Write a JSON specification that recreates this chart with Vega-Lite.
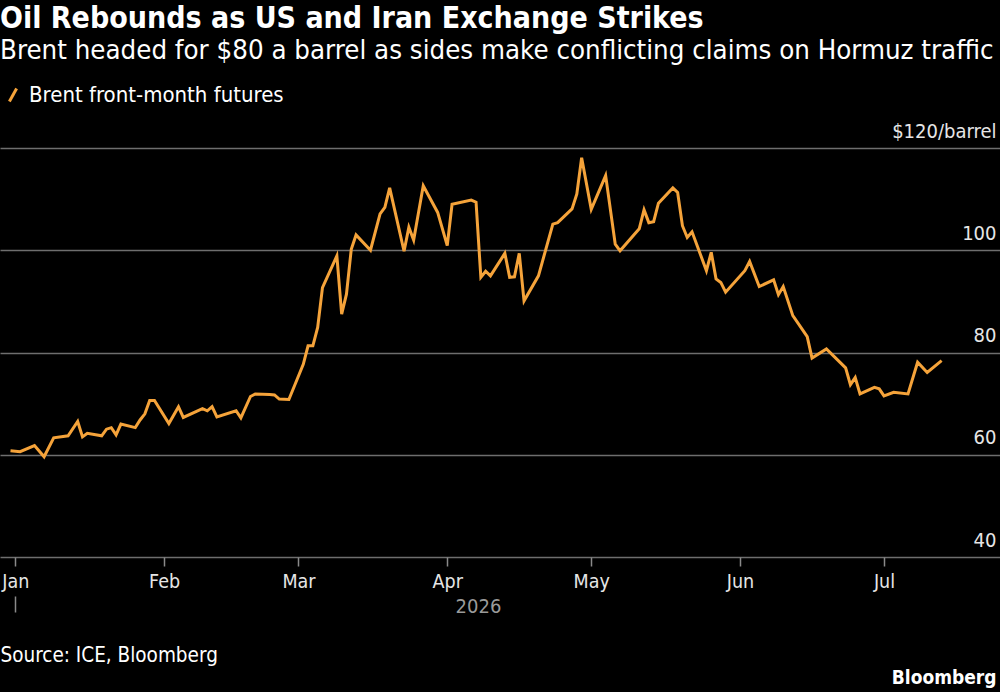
{
  "$schema": "https://vega.github.io/schema/vega-lite/v6.json",
  "width": 1000,
  "height": 409,
  "autosize": {"type": "none"},
  "padding": {"left": 0, "top": 148, "right": 0, "bottom": 135},
  "background": "#000000",
  "config": {"view": {"stroke": null}, "font": "DejaVu Sans Condensed, Roboto, sans-serif"},
  "title": {
    "text": "Oil Rebounds as US and Iran Exchange Strikes",
    "subtitle": "Brent headed for $80 a barrel as sides make conflicting claims on Hormuz traffic",
    "anchor": "start",
    "frame": "group",
    "offset": 20,
    "font": "DejaVu Sans Condensed, Roboto, sans-serif",
    "fontSize": 30,
    "fontWeight": "bold",
    "color": "#ffffff",
    "subtitleFont": "DejaVu Sans Condensed, Roboto, sans-serif",
    "subtitleFontSize": 27.4,
    "subtitleColor": "#ffffff",
    "subtitlePadding": 3
  },
  "data": {
    "values": [
      {"date": "2025-12-31", "price": 60.8},
      {"date": "2026-01-02", "price": 60.6},
      {"date": "2026-01-05", "price": 61.8},
      {"date": "2026-01-07", "price": 59.6},
      {"date": "2026-01-09", "price": 63.3},
      {"date": "2026-01-12", "price": 63.7},
      {"date": "2026-01-14", "price": 66.5},
      {"date": "2026-01-15", "price": 63.5},
      {"date": "2026-01-16", "price": 64.2},
      {"date": "2026-01-19", "price": 63.7},
      {"date": "2026-01-20", "price": 65.0},
      {"date": "2026-01-21", "price": 65.3},
      {"date": "2026-01-22", "price": 63.9},
      {"date": "2026-01-23", "price": 66.0},
      {"date": "2026-01-26", "price": 65.3},
      {"date": "2026-01-27", "price": 66.8},
      {"date": "2026-01-28", "price": 68.0},
      {"date": "2026-01-29", "price": 70.6},
      {"date": "2026-01-30", "price": 70.6},
      {"date": "2026-02-02", "price": 66.1},
      {"date": "2026-02-04", "price": 69.4},
      {"date": "2026-02-05", "price": 67.3},
      {"date": "2026-02-09", "price": 69.0},
      {"date": "2026-02-10", "price": 68.6},
      {"date": "2026-02-11", "price": 69.4},
      {"date": "2026-02-12", "price": 67.4},
      {"date": "2026-02-16", "price": 68.6},
      {"date": "2026-02-17", "price": 67.2},
      {"date": "2026-02-19", "price": 71.4},
      {"date": "2026-02-20", "price": 71.9},
      {"date": "2026-02-23", "price": 71.8},
      {"date": "2026-02-24", "price": 71.7},
      {"date": "2026-02-25", "price": 70.9},
      {"date": "2026-02-27", "price": 70.8},
      {"date": "2026-03-02", "price": 77.7},
      {"date": "2026-03-03", "price": 81.3},
      {"date": "2026-03-04", "price": 81.3},
      {"date": "2026-03-05", "price": 84.9},
      {"date": "2026-03-06", "price": 92.7},
      {"date": "2026-03-09", "price": 98.9},
      {"date": "2026-03-10", "price": 87.5},
      {"date": "2026-03-11", "price": 91.4},
      {"date": "2026-03-12", "price": 100.2},
      {"date": "2026-03-13", "price": 103.0},
      {"date": "2026-03-16", "price": 100.0},
      {"date": "2026-03-18", "price": 107.1},
      {"date": "2026-03-19", "price": 108.4},
      {"date": "2026-03-20", "price": 112.2},
      {"date": "2026-03-23", "price": 99.8},
      {"date": "2026-03-24", "price": 104.5},
      {"date": "2026-03-25", "price": 102.0},
      {"date": "2026-03-27", "price": 112.6},
      {"date": "2026-03-30", "price": 107.4},
      {"date": "2026-04-01", "price": 100.9},
      {"date": "2026-04-02", "price": 109.0},
      {"date": "2026-04-06", "price": 109.8},
      {"date": "2026-04-07", "price": 109.4},
      {"date": "2026-04-08", "price": 94.7},
      {"date": "2026-04-09", "price": 95.9},
      {"date": "2026-04-10", "price": 95.0},
      {"date": "2026-04-13", "price": 99.4},
      {"date": "2026-04-14", "price": 94.7},
      {"date": "2026-04-15", "price": 94.8},
      {"date": "2026-04-16", "price": 99.4},
      {"date": "2026-04-17", "price": 90.1},
      {"date": "2026-04-20", "price": 95.0},
      {"date": "2026-04-23", "price": 105.1},
      {"date": "2026-04-24", "price": 105.4},
      {"date": "2026-04-27", "price": 108.1},
      {"date": "2026-04-28", "price": 111.0},
      {"date": "2026-04-29", "price": 118.1},
      {"date": "2026-05-01", "price": 108.0},
      {"date": "2026-05-04", "price": 114.6},
      {"date": "2026-05-06", "price": 101.2},
      {"date": "2026-05-07", "price": 99.9},
      {"date": "2026-05-11", "price": 104.2},
      {"date": "2026-05-12", "price": 107.9},
      {"date": "2026-05-13", "price": 105.4},
      {"date": "2026-05-14", "price": 105.6},
      {"date": "2026-05-15", "price": 109.2},
      {"date": "2026-05-18", "price": 112.2},
      {"date": "2026-05-19", "price": 111.3},
      {"date": "2026-05-20", "price": 104.8},
      {"date": "2026-05-21", "price": 102.5},
      {"date": "2026-05-22", "price": 103.6},
      {"date": "2026-05-25", "price": 96.0},
      {"date": "2026-05-26", "price": 99.6},
      {"date": "2026-05-27", "price": 94.4},
      {"date": "2026-05-28", "price": 93.7},
      {"date": "2026-05-29", "price": 91.8},
      {"date": "2026-06-02", "price": 96.0},
      {"date": "2026-06-03", "price": 97.8},
      {"date": "2026-06-05", "price": 92.9},
      {"date": "2026-06-08", "price": 94.2},
      {"date": "2026-06-09", "price": 91.3},
      {"date": "2026-06-10", "price": 92.9},
      {"date": "2026-06-12", "price": 87.2},
      {"date": "2026-06-15", "price": 83.1},
      {"date": "2026-06-16", "price": 78.9},
      {"date": "2026-06-19", "price": 80.7},
      {"date": "2026-06-23", "price": 77.0},
      {"date": "2026-06-24", "price": 73.7},
      {"date": "2026-06-25", "price": 75.1},
      {"date": "2026-06-26", "price": 71.9},
      {"date": "2026-06-29", "price": 73.2},
      {"date": "2026-06-30", "price": 72.9},
      {"date": "2026-07-01", "price": 71.5},
      {"date": "2026-07-03", "price": 72.2},
      {"date": "2026-07-06", "price": 71.9},
      {"date": "2026-07-08", "price": 78.1},
      {"date": "2026-07-10", "price": 76.1},
      {"date": "2026-07-13", "price": 78.4}
    ]
  },
  "layer": [
    {
      "mark": {"type": "line", "strokeWidth": 3, "strokeJoin": "miter"},
      "encoding": {
        "x": {
          "field": "date",
          "type": "temporal",
          "scale": {"type": "utc", "domain": ["2025-12-28T19:30:00Z", "2026-07-25T04:00:00Z"]},
          "axis": {
            "orient": "bottom",
            "tickCount": {"interval": "month", "step": 1},
            "format": "%b",
            "grid": false,
            "domain": false,
            "ticks": true,
            "tickSize": 9,
            "tickColor": "#8a8a8a",
            "tickWidth": 1.5,
            "labelColor": "#e6e6e6",
            "labelFontSize": 19.5,
            "labelPadding": 6,
            "labelFlush": false,
            "labelOverlap": false,
            "title": "2026",
            "titleColor": "#9a9a9a",
            "titleFontSize": 20,
            "titleFontWeight": "normal",
            "titleX": 478,
            "titleY": 55,
            "titleAlign": "center",
            "titleBaseline": "alphabetic"
          }
        },
        "y": {
          "field": "price",
          "type": "quantitative",
          "scale": {"domain": [40, 120], "nice": false, "zero": false},
          "axis": {
            "orient": "right",
            "values": [40, 60, 80, 100, 120],
            "labelExpr": "datum.value == 120 ? '$120/barrel' : datum.label",
            "grid": true,
            "gridColor": "#6e6e6e",
            "gridWidth": 1.5,
            "domain": false,
            "ticks": false,
            "labelAlign": "right",
            "labelBaseline": "alphabetic",
            "labelPadding": -4,
            "labelOffset": -11,
            "labelColor": "#e6e6e6",
            "labelFontSize": 20,
            "title": "Source: ICE, Bloomberg",
            "titleAngle": 0,
            "titleAlign": "left",
            "titleBaseline": "alphabetic",
            "titleX": -1000,
            "titleY": 513,
            "titleColor": "#ffffff",
            "titleFontSize": 20.5,
            "titleFontWeight": "normal"
          }
        },
        "color": {
          "datum": "Brent front-month futures",
          "type": "nominal",
          "scale": {"range": ["#f5a33a"]},
          "legend": {
            "orient": "none",
            "legendX": 2,
            "legendY": -64,
            "title": null,
            "symbolType": "M-0.45,0.8L0.45,-0.8",
            "symbolSize": 256,
            "symbolStrokeWidth": 3,
            "labelFontSize": 22,
            "labelColor": "#ffffff",
            "labelOffset": 5,
            "labelLimit": 500
          }
        }
      }
    },
    {
      "mark": {"type": "line", "opacity": 0},
      "encoding": {
        "x": {
          "field": "date",
          "type": "temporal",
          "axis": {
            "orient": "bottom",
            "offset": 39,
            "values": [{"year": 2026, "month": 1, "date": 1, "utc": true}],
            "labels": false,
            "domain": false,
            "grid": false,
            "ticks": true,
            "tickSize": 16,
            "tickColor": "#8a8a8a",
            "tickWidth": 1.5,
            "title": "Bloomberg",
            "titleX": 996,
            "titleY": 87,
            "titleAlign": "right",
            "titleBaseline": "alphabetic",
            "titleFontWeight": "bold",
            "titleFontSize": 19,
            "titleColor": "#ffffff"
          }
        },
        "y": {"field": "price", "type": "quantitative"}
      }
    }
  ],
  "resolve": {"axis": {"x": "independent"}}
}
